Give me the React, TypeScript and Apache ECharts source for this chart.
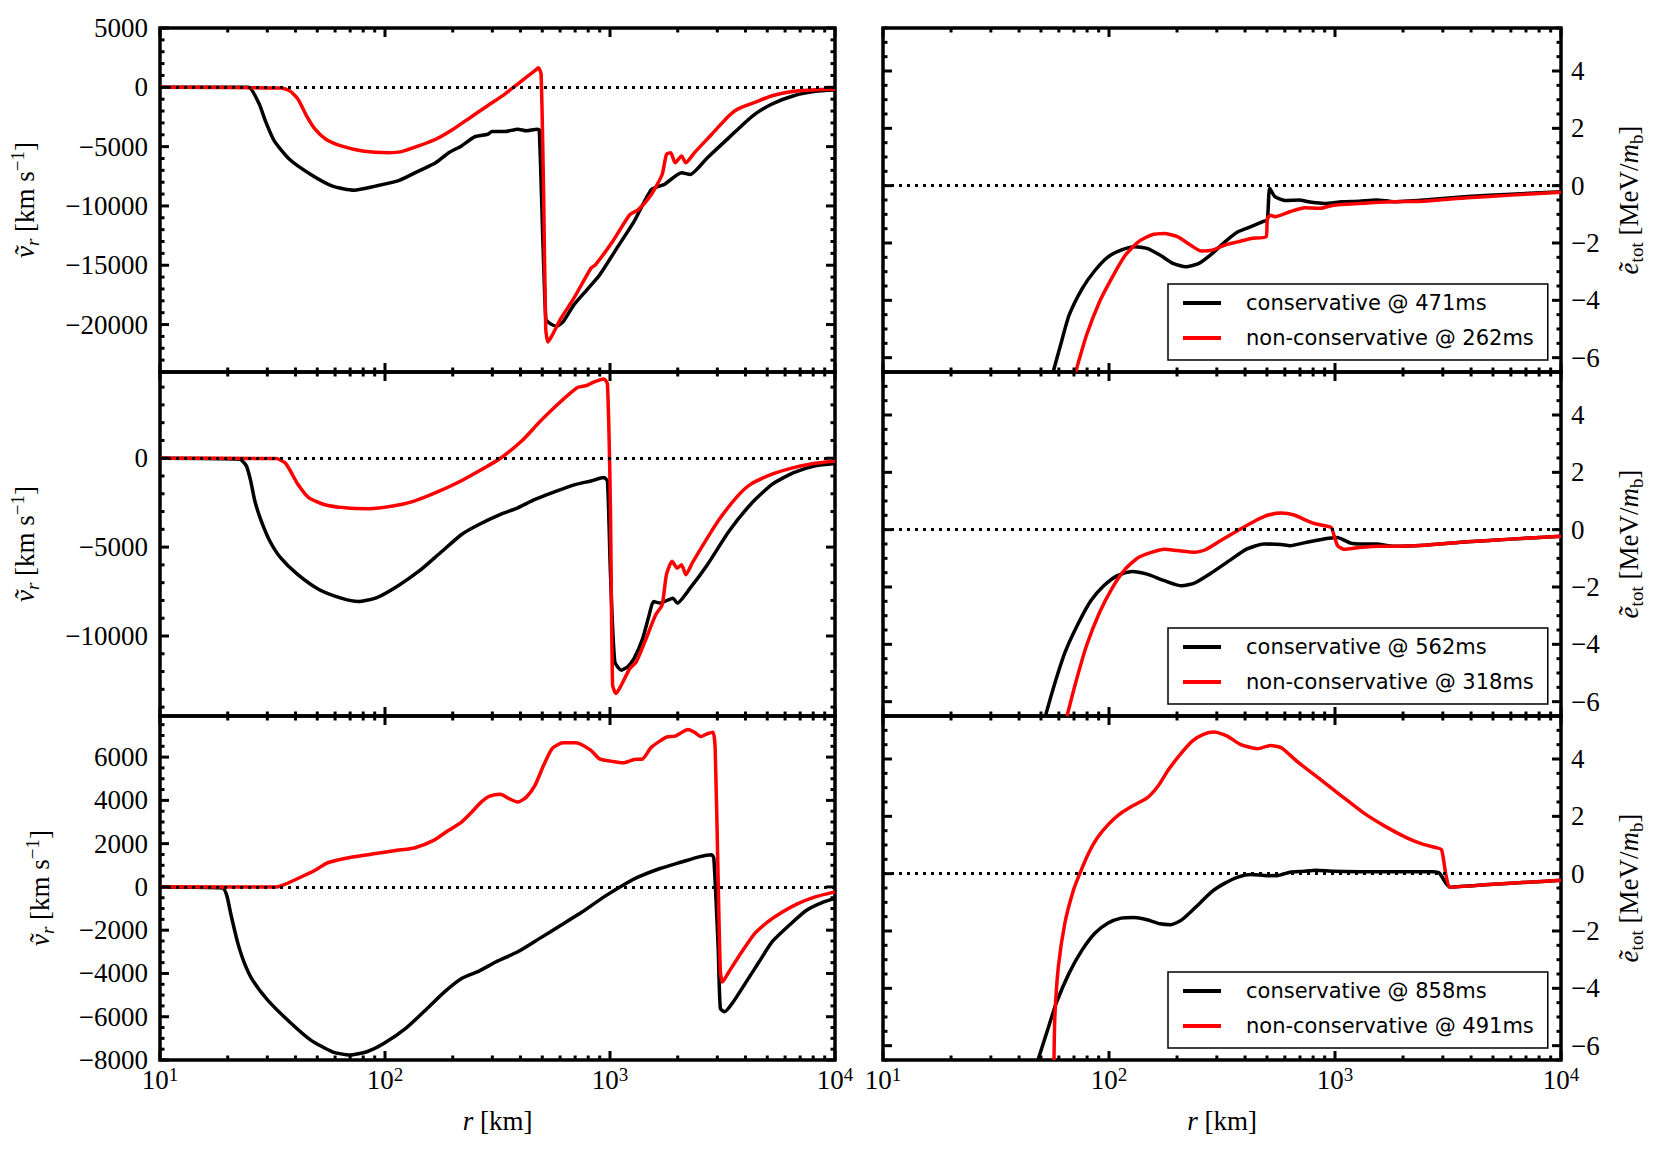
import React, { useEffect, useRef } from "react";
import * as echarts from "echarts";

// ---------- DATA (r in km) ----------
// Row 1 – radial velocity (km/s)
const p1ConsR = [10, 24.7, 27.6, 29.4, 32.2, 37.6, 46.8, 58.4, 72.8, 90.8, 115.7, 141, 168, 192, 219, 250, 286, 299, 341, 389, 425, 474, 485, 518, 542, 578, 618, 690, 788, 899, 1073, 1280, 1527, 1743, 2080, 2270, 2709, 3379, 4308, 5250, 6548, 8170, 10000];
const p1ConsV = [0, 0, -1410, -2830, -4520, -6070, -7350, -8330, -8670, -8330, -7850, -7060, -6360, -5510, -4940, -4180, -3960, -3730, -3730, -3530, -3670, -3530, -3600, -19490, -19920, -20140, -19770, -18360, -17090, -15820, -13560, -11300, -8620, -8190, -7200, -7350, -5930, -4240, -2400, -1410, -710, -340, -230];
const p1NonR = [10, 34.4, 37.6, 41.0, 44.8, 48.9, 54.6, 63.8, 79.5, 103.6, 118.2, 141, 168, 200.8, 239.5, 286, 341, 372, 425, 464, 481, 494, 507, 518, 530, 553, 605, 690, 823, 861, 1027, 1225, 1338, 1527, 1705, 1782, 1862, 1946, 2080, 2173, 2374, 2832, 3379, 3690, 4402, 5250, 6548, 8170, 10000];
const p1NonV = [0, -60, -280, -990, -2400, -3530, -4380, -4940, -5370, -5510, -5420, -4940, -4380, -3530, -2540, -1550, -570, 0, 850, 1410, 1640, 1130, -9040, -20340, -21470, -20910, -19490, -17800, -15250, -14970, -13000, -10740, -10310, -9040, -7350, -5650, -5510, -6360, -5790, -6360, -5510, -3960, -2400, -1840, -1270, -710, -340, -200, -170];

// Row 2 – radial velocity (km/s)
const p2ConsR = [10, 22.6, 24.2, 25.3, 26.4, 28.2, 30.8, 34.4, 41.0, 51.1, 63.8, 76.1, 90.8, 113.1, 141, 175.8, 219, 261.6, 326, 389, 464, 578, 706, 823, 940, 974, 1004, 1050, 1122, 1198, 1280, 1398, 1494, 1561, 1668, 1904, 1990, 2270, 2709, 3379, 4212, 5250, 6548, 8170, 10000];
const p2ConsV = [0, -60, -430, -1280, -2410, -3540, -4670, -5610, -6550, -7400, -7870, -8060, -7870, -7210, -6370, -5330, -4290, -3730, -3160, -2790, -2320, -1850, -1470, -1280, -1090, -1280, -6370, -11450, -11920, -11730, -11260, -10130, -8810, -8060, -8150, -7870, -8150, -7310, -5990, -4110, -2600, -1470, -810, -430, -300];
const p2NonR = [10, 32.9, 35.9, 37.6, 41.0, 45.8, 53.5, 66.6, 85.0, 108.3, 134.9, 168, 209.8, 261.6, 326, 406, 485, 578, 660, 721, 788, 841, 940, 974, 1004, 1027, 1064, 1122, 1225, 1309, 1429, 1596, 1705, 1782, 1887, 1990, 2080, 2173, 2322, 2709, 3094, 3690, 4212, 5250, 6548, 8170, 10000];
const p2NonV = [0, -20, -250, -620, -1470, -2220, -2600, -2790, -2840, -2690, -2410, -1940, -1380, -720, 0, 980, 2020, 2960, 3620, 3990, 4090, 4270, 4460, 4180, -2600, -12770, -13240, -12770, -11830, -11450, -10320, -8810, -8250, -6550, -5800, -6180, -5990, -6550, -5890, -4480, -3350, -2130, -1470, -900, -530, -280, -150];

// Row 3 – radial velocity (km/s)
const p3ConsR = [10, 18.96, 19.8, 20.7, 22.1, 23.6, 25.8, 30.1, 37.6, 46.8, 58.4, 69.7, 83.1, 99.1, 123.6, 154, 183.8, 219, 261.6, 312, 389, 485, 605, 754, 940, 1172, 1338, 1668, 2080, 2481, 2832, 2895, 3026, 3094, 3233, 3532, 4030, 4600, 5250, 6266, 7474, 8916, 10000];
const p3ConsV = [0, -50, -390, -1310, -2540, -3460, -4310, -5230, -6230, -7080, -7620, -7770, -7620, -7230, -6540, -5620, -4850, -4230, -3890, -3460, -3000, -2390, -1770, -1150, -460, 150, 460, 850, 1150, 1390, 1490, 1310, -2850, -5620, -5770, -5310, -4390, -3460, -2540, -1770, -1080, -690, -540];
const p3NonR = [10, 32.9, 35.2, 41.0, 48.9, 54.6, 61.0, 72.8, 90.8, 113.1, 134.9, 164.6, 192, 219, 239.5, 267.4, 292.2, 326, 356, 389, 425, 464, 507, 553, 618, 706, 823, 899, 1027, 1147, 1280, 1398, 1527, 1782, 1946, 2222, 2374, 2535, 2709, 2870, 2934, 3026, 3094, 3162, 3379, 3855, 4402, 5023, 5861, 6840, 8170, 10000];
const p3NonV = [0, 0, 80, 390, 770, 1080, 1230, 1390, 1540, 1690, 1800, 2150, 2620, 3000, 3390, 3920, 4200, 4280, 4080, 3920, 4150, 4690, 5620, 6390, 6660, 6660, 6310, 5920, 5800, 5740, 5890, 5920, 6460, 6920, 6970, 7280, 7150, 6950, 7080, 7150, 6390, 230, -3920, -4390, -3920, -3000, -2150, -1620, -1150, -770, -460, -230];

// Row 1 – total specific energy (MeV / m_b)
const e1ConsR = [56.6, 61.0, 66.6, 76.1, 86.8, 99.1, 113.1, 129.1, 147.4, 168, 192, 219, 250, 286, 326, 372, 425, 485, 502, 514, 542, 605, 690, 788, 899, 1073, 1280, 1527, 1822, 2481, 3855, 5995, 10000];
const e1ConsV = [-6.5, -5.57, -4.52, -3.59, -2.95, -2.48, -2.25, -2.13, -2.19, -2.42, -2.71, -2.83, -2.71, -2.37, -1.96, -1.61, -1.43, -1.24, -1.2, -0.09, -0.38, -0.52, -0.5, -0.58, -0.62, -0.56, -0.54, -0.5, -0.56, -0.5, -0.38, -0.3, -0.21];
const e1NonR = [71.2, 79.5, 90.8, 103.6, 118.2, 134.9, 154, 175.8, 200.8, 229.2, 255.9, 286, 326, 372, 425, 496, 502, 518, 542, 632, 737, 861, 983, 1280, 1782, 2481, 3855, 5995, 10000];
const e1NonV = [-6.5, -5.22, -4.05, -3.18, -2.42, -1.96, -1.72, -1.67, -1.78, -2.07, -2.28, -2.25, -2.07, -1.96, -1.84, -1.78, -1.14, -1.03, -1.08, -0.91, -0.77, -0.79, -0.68, -0.62, -0.56, -0.54, -0.42, -0.33, -0.23];

// Row 2 – total specific energy
const e2ConsR = [52.3, 57.1, 63.8, 72.8, 83.1, 94.8, 108.3, 126.3, 147.4, 175.8, 209.8, 239.5, 286, 341, 406, 485, 578, 632, 721, 823, 940, 1027, 1073, 1172, 1280, 1527, 1822, 2481, 3855, 5995, 10000];
const e2ConsV = [-6.5, -5.45, -4.29, -3.3, -2.48, -1.96, -1.61, -1.46, -1.55, -1.78, -1.96, -1.86, -1.49, -1.08, -0.68, -0.5, -0.52, -0.56, -0.47, -0.38, -0.3, -0.27, -0.33, -0.47, -0.5, -0.5, -0.58, -0.54, -0.42, -0.33, -0.23];
const e2NonR = [65.2, 71.2, 79.5, 90.8, 103.6, 118.2, 134.9, 154, 175.8, 200.8, 239.5, 267.4, 312, 372, 444, 507, 578, 660, 754, 823, 961, 991, 1027, 1097, 1280, 1596, 1822, 2481, 3855, 5995, 10000];
const e2NonV = [-6.5, -5.34, -4.05, -2.89, -2.02, -1.37, -0.97, -0.79, -0.68, -0.73, -0.79, -0.7, -0.38, -0.03, 0.31, 0.51, 0.58, 0.51, 0.31, 0.2, 0.08, -0.21, -0.56, -0.68, -0.62, -0.58, -0.58, -0.54, -0.42, -0.33, -0.23];

// Row 3 – total specific energy
const e3ConsR = [48.5, 53.5, 58.4, 66.6, 76.1, 86.8, 99.1, 113.1, 129.1, 147.4, 168, 187.9, 209.8, 239.5, 286, 326, 372, 425, 485, 553, 632, 721, 823, 983, 1280, 1990, 2709, 2895, 3094, 3233, 4808, 7474, 10000];
const e3ConsV = [-6.5, -5.45, -4.52, -3.47, -2.66, -2.07, -1.72, -1.55, -1.53, -1.61, -1.75, -1.78, -1.61, -1.2, -0.62, -0.33, -0.12, -0.03, -0.06, -0.07, 0.05, 0.08, 0.12, 0.08, 0.07, 0.07, 0.07, 0.02, -0.33, -0.47, -0.38, -0.29, -0.23];
const e3NonR = [57.1, 57.6, 59.7, 63.8, 69.7, 74.4, 81.3, 88.8, 99.1, 110.7, 126.3, 147.4, 164.6, 183.8, 209.8, 234.3, 261.6, 292.2, 333.4, 380.6, 454, 518, 578, 690, 861, 1073, 1338, 1668, 2080, 2481, 2770, 2960, 3094, 3233, 4808, 7474, 10000];
const e3NonV = [-6.5, -4.99, -3.24, -1.72, -0.56, 0.02, 0.72, 1.25, 1.71, 2.06, 2.35, 2.64, 3.05, 3.64, 4.22, 4.63, 4.86, 4.94, 4.8, 4.51, 4.36, 4.47, 4.39, 3.87, 3.29, 2.7, 2.12, 1.65, 1.25, 1.01, 0.92, 0.84, -0.03, -0.47, -0.38, -0.29, -0.23];

const rowNames = [
  ["conservative @ 471ms", "non-conservative @ 262ms"],
  ["conservative @ 562ms", "non-conservative @ 318ms"],
  ["conservative @ 858ms", "non-conservative @ 491ms"],
];

// tick labels
const rMajorTicks = [10, 100, 1000, 10000];
const vrTicks1 = [-20000, -15000, -10000, -5000, 0, 5000];
const vrTicks2 = [-10000, -5000, 0];
const vrTicks3 = [-8000, -6000, -4000, -2000, 0, 2000, 4000, 6000];
const eTicks = [-6, -4, -2, 0, 2, 4];

// ---------- LAYOUT / STYLE ----------
const SERIF = "'Liberation Serif', 'DejaVu Serif', serif";
const SANS = "'DejaVu Sans', sans-serif";
const TOPS = [28, 372, 716];
const PANEL_H = 344;

type Panel = {
  col: number; row: number; ymin: number; ymax: number; majors: number[]; minorStep: number;
  cons: [number[], number[]]; non: [number[], number[]]; nameGap: number;
};

const panels: Panel[] = [
  { col: 0, row: 0, ymin: -24000, ymax: 5000, majors: vrTicks1, minorStep: 1000, cons: [p1ConsR, p1ConsV], non: [p1NonR, p1NonV], nameGap: 118 },
  { col: 0, row: 1, ymin: -14500, ymax: 4850, majors: vrTicks2, minorStep: 1000, cons: [p2ConsR, p2ConsV], non: [p2NonR, p2NonV], nameGap: 118 },
  { col: 0, row: 2, ymin: -8000, ymax: 7900, majors: vrTicks3, minorStep: 500, cons: [p3ConsR, p3ConsV], non: [p3NonR, p3NonV], nameGap: 103 },
  { col: 1, row: 0, ymin: -6.5, ymax: 5.5, majors: eTicks, minorStep: 0.5, cons: [e1ConsR, e1ConsV], non: [e1NonR, e1NonV], nameGap: 51 },
  { col: 1, row: 1, ymin: -6.5, ymax: 5.5, majors: eTicks, minorStep: 0.5, cons: [e2ConsR, e2ConsV], non: [e2NonR, e2NonV], nameGap: 51 },
  { col: 1, row: 2, ymin: -6.5, ymax: 5.5, majors: eTicks, minorStep: 0.5, cons: [e3ConsR, e3ConsV], non: [e3NonR, e3NonV], nameGap: 51 },
];

const zip = (r: number[], v: number[]) => r.map((x, i) => [x, v[i]]);

// tick marks on all four sides, placed through the axes' scales
function tickData(p: Panel) {
  const out: number[][] = [];
  const MAJ = 9, MIN = 4.5;
  const xMinor: number[] = [];
  [10, 100, 1000].forEach((d) => { for (let m = 2; m <= 9; m++) xMinor.push(m * d); });
  rMajorTicks.forEach((x) => { out.push([x, p.ymin, 0, MAJ], [x, p.ymax, 1, MAJ]); });
  xMinor.forEach((x) => { out.push([x, p.ymin, 0, MIN], [x, p.ymax, 1, MIN]); });
  p.majors.forEach((y) => { out.push([10, y, 2, MAJ], [10000, y, 3, MAJ]); });
  const start = Math.ceil(p.ymin / p.minorStep - 1e-9);
  const end = Math.floor(p.ymax / p.minorStep + 1e-9);
  for (let k = start; k <= end; k++) {
    const y = k * p.minorStep;
    if (p.majors.some((m) => Math.abs(m - y) < 1e-9)) continue;
    out.push([10, y, 2, MIN], [10000, y, 3, MIN]);
  }
  return out;
}

const minusFmt = (v: number) => (v < 0 ? "\u2212" + String(-v) : String(v));

const nameRich = {
  i: { fontFamily: SERIF, fontSize: 27, fontStyle: "italic", lineHeight: 34, color: "#000" },
  sub: { fontFamily: SERIF, fontSize: 19, fontStyle: "italic", lineHeight: 18, verticalAlign: "bottom", color: "#000" },
  subr: { fontFamily: SERIF, fontSize: 19, lineHeight: 18, verticalAlign: "bottom", color: "#000" },
  sup: { fontFamily: SERIF, fontSize: 19, lineHeight: 18, verticalAlign: "top", color: "#000" },
};

const VR_NAME = "{i|\u1E7D}{sub|r} [km s{sup|\u22121}]";
const E_NAME = "{i|\u1EBD}{subr|tot} [MeV/{i|m}{subr|b}]";

function buildOption() {
  const grid = panels.map((p) => ({
    left: p.col === 0 ? 160 : 883,
    top: TOPS[p.row],
    width: p.col === 0 ? 675 : 678,
    height: PANEL_H,
    show: true,
    borderColor: "#000",
    borderWidth: 3.5,
    backgroundColor: "transparent",
  }));

  const xAxis = panels.map((p, i) => ({
    type: "log",
    logBase: 10,
    min: 10,
    max: 10000,
    gridIndex: i,
    axisLine: { show: false },
    axisTick: { show: false },
    splitLine: { show: false },
    axisLabel:
      p.row === 2
        ? {
            margin: 5,
            formatter: (v: number) => `{b|10}{s|${Math.round(Math.log10(v))}}`,
            rich: {
              b: { fontFamily: SERIF, fontSize: 27, lineHeight: 30, color: "#000" },
              s: { fontFamily: SERIF, fontSize: 19, lineHeight: 16, verticalAlign: "top", color: "#000" },
            },
          }
        : { show: false },
    name: p.row === 2 ? "{i|r} [km]" : "",
    nameLocation: "middle",
    nameGap: 44,
    nameTextStyle: { fontFamily: SERIF, fontSize: 27, color: "#000", lineHeight: 30, rich: nameRich },
  }));

  const yAxis = panels.map((p, i) => ({
    type: "value",
    gridIndex: i,
    min: p.ymin,
    max: p.ymax,
    position: p.col === 0 ? "left" : "right",
    axisLine: { show: false },
    axisTick: { show: false },
    splitLine: { show: false },
    axisLabel: {
      customValues: p.majors,
      formatter: minusFmt,
      margin: p.col === 0 ? 12 : 10,
      fontFamily: SERIF,
      fontSize: 27,
      color: "#000",
    },
    name: p.col === 0 ? VR_NAME : E_NAME,
    nameLocation: "middle",
    nameRotate: 90,
    nameGap: p.nameGap,
    nameTextStyle: { fontFamily: SERIF, fontSize: 27, color: "#000", lineHeight: 34, rich: nameRich },
  }));

  const series: any[] = [];
  panels.forEach((p, i) => {
    const names = rowNames[p.row];
    series.push({
      type: "line",
      name: names[0],
      xAxisIndex: i,
      yAxisIndex: i,
      data: zip(p.cons[0], p.cons[1]),
      showSymbol: false,
      symbol: "none",
      smooth: 0.2,
      lineStyle: { color: "#000", width: 3.5, join: "round" },
      itemStyle: { color: "#000" },
      emphasis: { disabled: true },
      markLine: {
        silent: true,
        symbol: ["none", "none"],
        label: { show: false },
        lineStyle: { color: "#000", type: [3, 5], width: 3 },
        emphasis: { disabled: true },
        data: [{ yAxis: 0 }],
      },
      z: 2,
    });
    series.push({
      type: "line",
      name: names[1],
      xAxisIndex: i,
      yAxisIndex: i,
      data: zip(p.non[0], p.non[1]),
      showSymbol: false,
      symbol: "none",
      smooth: 0.2,
      lineStyle: { color: "#ff0000", width: 3.5, join: "round" },
      itemStyle: { color: "#ff0000" },
      emphasis: { disabled: true },
      z: 3,
    });
    series.push({
      type: "custom",
      xAxisIndex: i,
      yAxisIndex: i,
      silent: true,
      z: 6,
      data: tickData(p),
      encode: { x: 0, y: 1 },
      renderItem: (_params: any, api: any) => {
        const pt = api.coord([api.value(0), api.value(1)]);
        const d = api.value(2);
        const len = api.value(3);
        let x2 = pt[0];
        let y2 = pt[1];
        if (d === 0) y2 -= len;
        else if (d === 1) y2 += len;
        else if (d === 2) x2 += len;
        else x2 -= len;
        return {
          type: "line",
          shape: { x1: pt[0], y1: pt[1], x2, y2 },
          style: { stroke: "#000", lineWidth: 3 },
        };
      },
    });
  });

  const legend = rowNames.map((names, r) => ({
    data: names,
    orient: "vertical",
    left: 1168,
    top: TOPS[r] + 256,
    icon: "rect",
    itemWidth: 38,
    itemHeight: 4,
    itemGap: 11,
    padding: [7, 14, 10, 15],
    borderColor: "#000",
    borderWidth: 1.5,
    borderRadius: 0,
    backgroundColor: "#fff",
    selectedMode: false,
    z: 10,
    textStyle: { fontFamily: SANS, fontSize: 21, color: "#000", lineHeight: 24, padding: [0, 0, 0, 20] },
  }));

  return {
    animation: false,
    backgroundColor: "#fff",
    grid,
    xAxis,
    yAxis,
    legend,
    series,
  };
}

export default function App() {
  const ref = useRef<HTMLDivElement>(null);
  useEffect(() => {
    if (!ref.current) return;
    const chart = echarts.init(ref.current, null, { renderer: "svg" });
    chart.setOption(buildOption() as any);
    return () => chart.dispose();
  }, []);
  return (
    <div
      ref={ref}
      style={{ position: "absolute", left: 0, top: 0, width: 1663, height: 1151, background: "#fff" }}
    />
  );
}
